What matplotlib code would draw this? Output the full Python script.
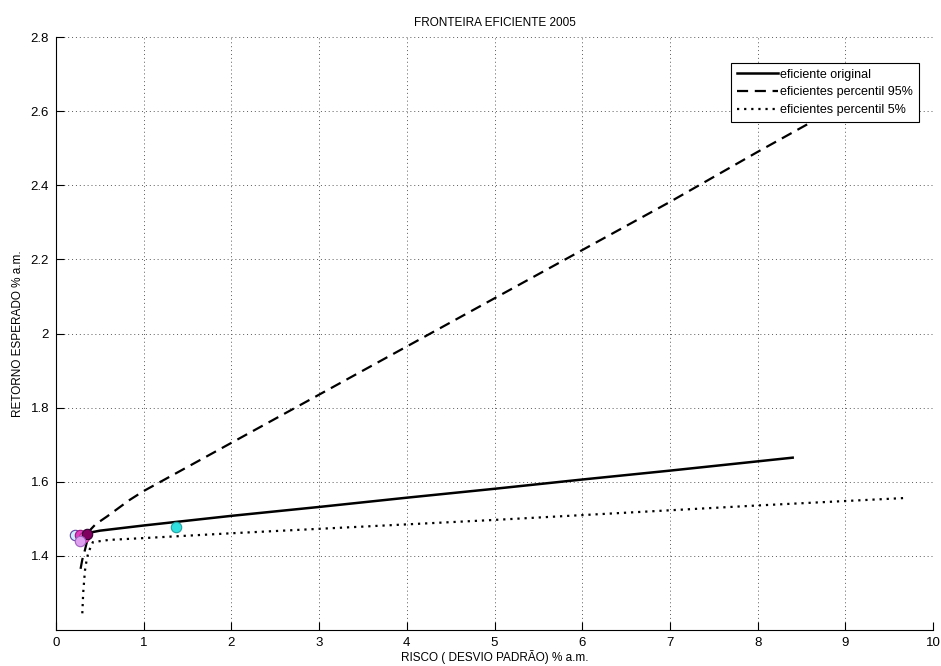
import numpy as np
import matplotlib
matplotlib.use("Agg")
import matplotlib.pyplot as plt
from matplotlib.ticker import FormatStrFormatter

plt.rcParams['font.family'] = ['Liberation Sans', 'DejaVu Sans']

# fronteira eficiente original
risco_orig = [0.37, 0.5, 1.0, 1.5, 2.0, 3.0, 4.0, 5.0, 6.0, 7.0, 8.0, 8.4]
ret_orig = [1.462, 1.468, 1.482, 1.495, 1.508, 1.532, 1.557, 1.581, 1.606, 1.630, 1.655, 1.665]

# fronteiras percentil 95%
risco_p95 = [0.28, 0.30, 0.33, 0.36, 0.39, 0.45, 0.58, 0.84, 1.0, 1.5, 2.0, 3.0, 4.0, 5.0, 6.0, 7.0, 8.0, 8.64, 9.1]
ret_p95 = [1.365, 1.39, 1.416, 1.445, 1.47, 1.485, 1.506, 1.551, 1.575, 1.64, 1.705, 1.835, 1.965, 2.095, 2.225, 2.355, 2.49, 2.574, 2.62]

# fronteiras percentil 5%
risco_p5 = [0.30, 0.31, 0.33, 0.35, 0.37, 0.42, 0.6, 1.0, 2.0, 3.0, 4.0, 5.0, 6.0, 7.0, 8.0, 9.0, 9.67]
ret_p5 = [1.245, 1.30, 1.36, 1.39, 1.41, 1.437, 1.443, 1.448, 1.461, 1.473, 1.485, 1.497, 1.51, 1.523, 1.536, 1.548, 1.556]

# ativos individuais
risco_ativos = [0.22, 0.27, 0.32, 0.35, 0.27, 1.37]
ret_ativos = [1.457, 1.457, 1.452, 1.459, 1.439, 1.479]
cor_face = ['#c8f0ff', '#e040c0', '#f070d0', '#800060', '#e0a0f0', '#30e0e0']
cor_borda = ['#6040a0', '#a01080', '#c02090', '#300030', '#a060c0', '#20a0a0']

fig = plt.figure(figsize=(9.41, 6.66), dpi=100)
ax = fig.add_axes([56/941, 36/666, 877/941, 593/666])

ax.plot(risco_orig, ret_orig, '-', color='k', lw=1.8, label='eficiente original')
ax.plot(risco_p95, ret_p95, '--', color='k', lw=1.6, dashes=(5, 3), label='eficientes percentil 95%')
ax.plot(risco_p5, ret_p5, color='k', lw=1.6, linestyle=(0, (1, 2.2)), label='eficientes percentil 5%')

for xi, yi, fc, ec in zip(risco_ativos, ret_ativos, cor_face, cor_borda):
    ax.plot(xi, yi, 'o', ms=7.5, mfc=fc, mec=ec, mew=0.8, zorder=3)

ax.set_xlim(0, 10)
ax.set_ylim(1.2, 2.8)
ax.set_xticks(np.arange(0, 11, 1))
ax.set_yticks([1.4, 1.6, 1.8, 2.0, 2.2, 2.4, 2.6, 2.8])
ax.yaxis.set_major_formatter(FormatStrFormatter('%g'))
ax.grid(True, linestyle=(0, (1, 3)), color='0.35', lw=0.7)
ax.spines['top'].set_visible(False)
ax.spines['right'].set_visible(False)
ax.tick_params(direction='in', length=6, width=0.8, labelsize=9.5, pad=5)

ax.set_title('FRONTEIRA EFICIENTE 2005', fontsize=8.5, pad=8)
ax.set_xlabel('RISCO ( DESVIO PADRÃO) % a.m.', fontsize=8.5, labelpad=1)
ax.set_ylabel('RETORNO ESPERADO % a.m.', fontsize=8.5)
ax.yaxis.set_label_coords(-0.037, 0.5)

leg = ax.legend(loc='upper right', bbox_to_anchor=(919/941, 1 - 63/666),
                bbox_transform=fig.transFigure, borderaxespad=0,
                fontsize=9, handlelength=3.3, handletextpad=0.2,
                labelspacing=0.45, fancybox=False, framealpha=1,
                edgecolor='k', borderpad=0.45)
leg.get_frame().set_linewidth(0.8)

fig.savefig('out.png', dpi=100)
